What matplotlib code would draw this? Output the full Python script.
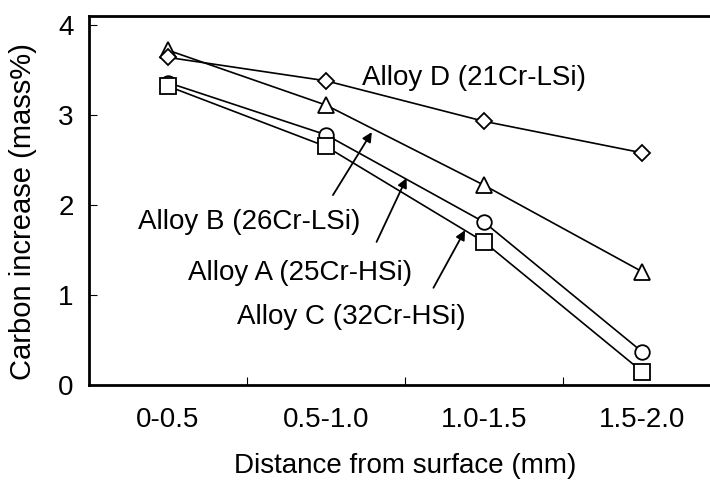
import matplotlib

matplotlib.use("Agg")
import matplotlib.pyplot as plt

# 表层增碳量数据（mass%）
categories = ["0-0.5", "0.5-1.0", "1.0-1.5", "1.5-2.0"]
alloy_b = [3.72, 3.11, 2.22, 1.26]
alloy_d = [3.64, 3.38, 2.93, 2.58]
alloy_a = [3.36, 2.78, 1.81, 0.37]
alloy_c = [3.32, 2.65, 1.59, 0.15]

label_b = "Alloy B (26Cr-LSi)"
label_d = "Alloy D (21Cr-LSi)"
label_a = "Alloy A (25Cr-HSi)"
label_c = "Alloy C (32Cr-HSi)"

plt.rcParams["font.family"] = ["Liberation Sans", "DejaVu Sans"]

fig = plt.figure(figsize=(7.10, 4.88), dpi=100)
ax = fig.add_axes([89 / 710, 103 / 488, 632 / 710, 369 / 488])

x = list(range(len(categories)))
line_kw = dict(color="black", linewidth=1.2, markerfacecolor="white",
               markeredgecolor="black", markeredgewidth=1.3)
ax.plot(x, alloy_b, marker="^", markersize=12, **line_kw)
ax.plot(x, alloy_d, marker="D", markersize=8.5, **line_kw)
ax.plot(x, alloy_a, marker="o", markersize=10.5, **line_kw)
ax.plot(x, alloy_c, marker="s", markersize=11, **line_kw)

ax.set_xlim(-0.5, 3.5)
ax.set_ylim(0, 4.1)
ax.set_yticks([0, 1, 2, 3, 4])
ax.set_xticks(x)
ax.set_xticklabels(categories)
ax.set_xticks([0.5, 1.5, 2.5], minor=True)
ax.tick_params(axis="x", which="major", length=0, pad=16, labelsize=20)
ax.tick_params(axis="x", which="minor", direction="in", length=6, width=0.8)
ax.tick_params(axis="y", direction="in", length=6, width=0.8, pad=11, labelsize=20)

for side in ("left", "bottom", "top", "right"):
    ax.spines[side].set_linewidth(2.0)

ax.set_xlabel("Distance from surface (mm)", fontsize=20, labelpad=14)
ax.set_ylabel("Carbon increase (mass%)", fontsize=21)
ax.yaxis.set_label_coords(-52 / 632, 0.47)

# 合金名称标注
ax.text(1.23, 3.41, label_d, fontsize=20, va="center", ha="left")
ax.text(-0.19, 1.81, label_b, fontsize=20, va="center", ha="left")
ax.text(0.127, 1.24, label_a, fontsize=20, va="center", ha="left")
ax.text(0.437, 0.756, label_c, fontsize=20, va="center", ha="left")

arrow_kw = dict(arrowstyle="-|>", color="black", linewidth=1.3, mutation_scale=14,
                shrinkA=0, shrinkB=0)
ax.annotate("", xy=(1.29, 2.81), xytext=(1.044, 2.11), arrowprops=arrow_kw)
ax.annotate("", xy=(1.51, 2.30), xytext=(1.32, 1.59), arrowprops=arrow_kw)
ax.annotate("", xy=(1.88, 1.72), xytext=(1.68, 1.08), arrowprops=arrow_kw)

fig.savefig("out.png", dpi=100)
